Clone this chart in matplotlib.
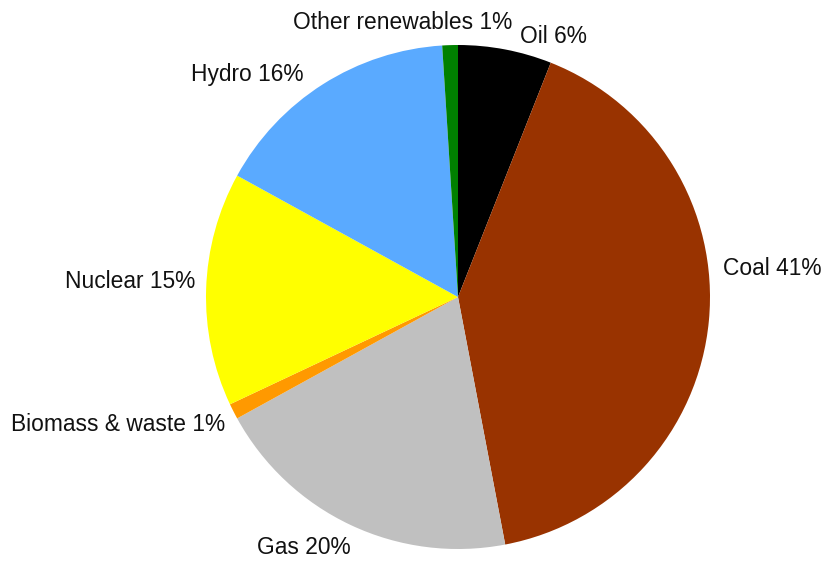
import matplotlib.pyplot as plt

plt.rcParams['font.family'] = ['Liberation Sans', 'DejaVu Sans']

# electricity generation mix by source (share, %)
sources = ['Oil', 'Coal', 'Gas', 'Biomass & waste', 'Nuclear', 'Hydro',
           'Other renewables']
shares = [6, 41, 20, 1, 15, 16, 1]
colors = ['#000000', '#993300', '#C0C0C0', '#FF9900', '#FFFF00', '#5AAAFF',
          '#008000']

# label placement (in pie radius units) and alignment, tuned by eye
label_pos = [(0.38, 1.035), (1.05, 0.115), (-0.61, -0.995), (-0.925, -0.505),
             (-1.044, 0.063), (-0.615, 0.881), (-0.22, 1.09)]
label_ha = ['center', 'left', 'center', 'right', 'right', 'right', 'center']

fig = plt.figure(figsize=(8.24, 5.61), dpi=100)
# center of the pie at (458, 297) px, radius ~252 px
W, H = 824, 561
R = 252
cx, cy = 458, 297
ax = fig.add_axes([(cx - R) / W, (H - cy - R) / H, 2 * R / W, 2 * R / H])

wedges, _ = ax.pie(shares, colors=colors, startangle=90, counterclock=False,
                   radius=1.0, wedgeprops=dict(linewidth=0))

for name, val, (x, y), ha in zip(sources, shares, label_pos, label_ha):
    ax.text(x, y, f'{name} {val}%', ha=ha, va='center', fontsize=16.4,
            color='#111111', clip_on=False)

ax.set_xlim(-1, 1)
ax.set_ylim(-1, 1)
ax.set_aspect('equal')
ax.axis('off')

fig.savefig('out.png', dpi=100)
